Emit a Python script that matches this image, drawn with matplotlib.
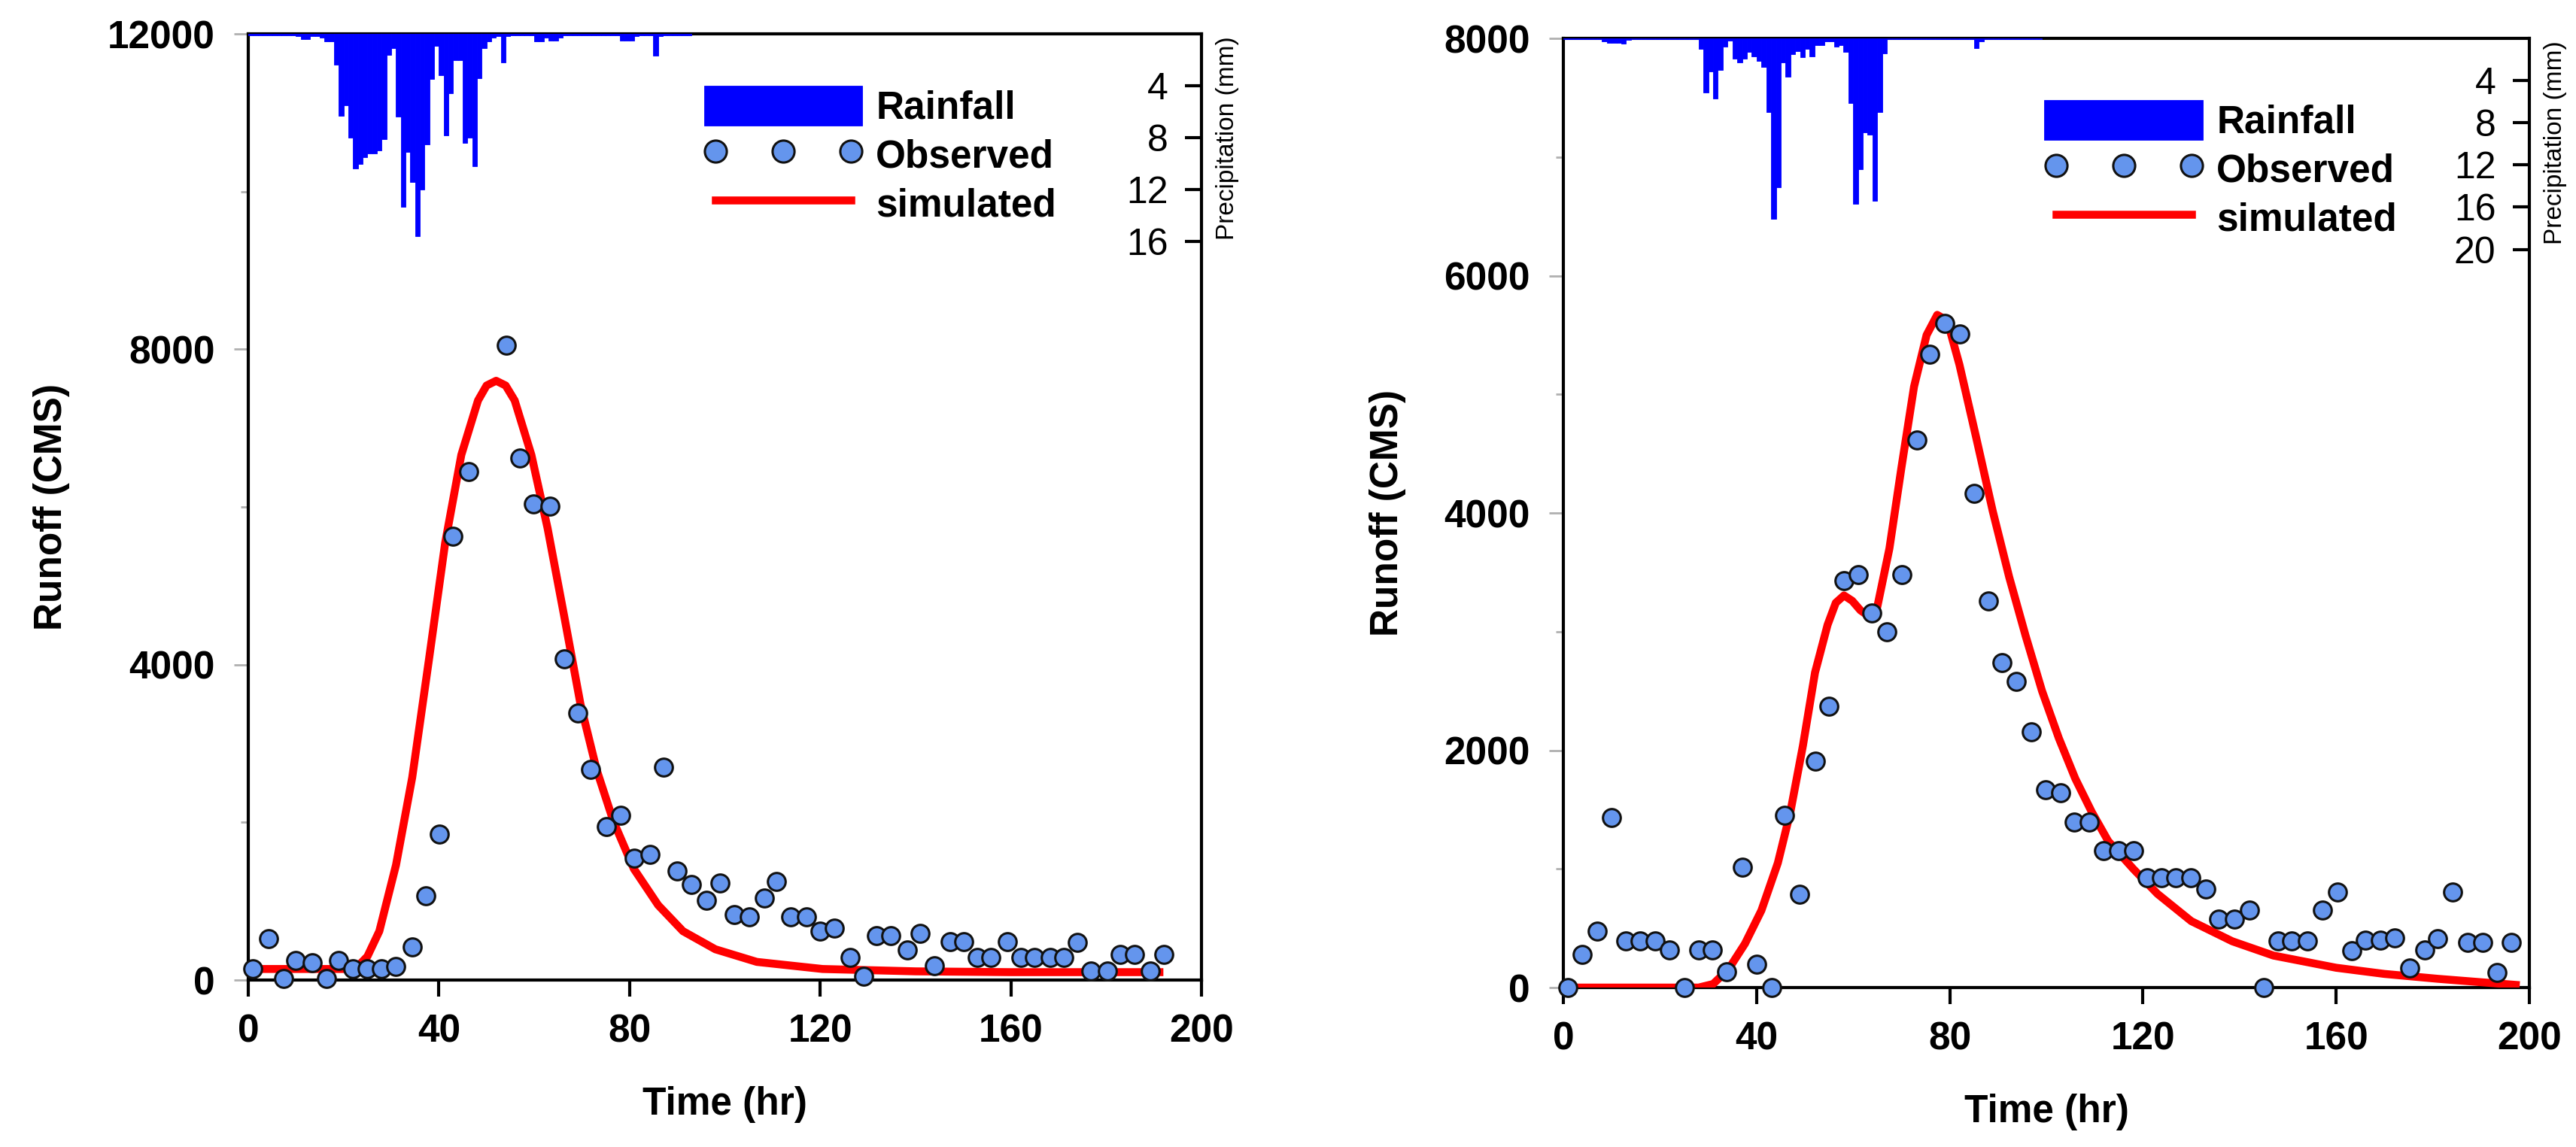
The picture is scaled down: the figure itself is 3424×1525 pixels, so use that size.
import numpy as np
import matplotlib.pyplot as plt
from matplotlib.lines import Line2D

plt.rcParams['font.family'] = ['Liberation Sans', 'DejaVu Sans']

# ---- left event ----
obs_t_left = [0.9, 4.3, 7.4, 10, 13.4, 16.4, 19, 22, 25, 28, 31, 34.4, 37.3, 40.1, 42.9,
              46.3, 54.2, 57, 59.9, 63.3, 66.3, 69.2, 71.8, 75.2, 78.1, 80.9, 84.3, 87.1,
              90, 92.9, 96.2, 99, 101.9, 105.2, 108.3, 110.8, 113.8, 117.2, 120, 122.9,
              126.3, 129.1, 131.8, 134.8, 138.2, 141, 143.9, 147.3, 150.1, 153, 155.8,
              159.2, 162.1, 165, 168.2, 171.1, 174, 176.8, 180.2, 183, 185.9, 189.3, 192.1]
obs_q_left = [140, 520, 20, 250, 220, 20, 250, 140, 140, 140, 175, 420, 1070, 1850, 5630,
              6450, 8050, 6620, 6035, 6010, 4070, 3390, 2675, 1950, 2090, 1550, 1590, 2700,
              1385, 1215, 1010, 1235, 826, 800, 1040, 1245, 800, 800, 620, 660,
              290, 50, 560, 560, 380, 590, 185, 490, 490, 290, 290,
              490, 290, 290, 290, 290, 480, 110, 110, 325, 325, 110, 325]

sim_t_left = [1, 5, 10, 15, 20, 22.6, 25, 27.5, 31, 34.4, 37.9, 41.3, 44.7, 48.2, 50, 52,
              54, 55.9, 59.4, 62.8, 66.3, 69.7, 73.1, 76.6, 80.9, 86, 91.2, 98, 106.7,
              120.5, 140, 160, 180, 192]
sim_q_left = [140, 140, 140, 140, 140, 150, 300, 620, 1460, 2570, 4060, 5540, 6660, 7350,
              7540, 7600, 7540, 7350, 6660, 5730, 4610, 3500, 2665, 2015, 1410, 950, 620,
              390, 230, 140, 110, 100, 100, 100]

rain_left = [0.1, 0.1, 0.1, 0.1, 0.1, 0.1, 0.1, 0.1, 0.1, 0.1,
             0.15, 0.4, 0.4, 0.15, 0.15, 0.3, 0.6, 0.6, 2.4, 6.3,
             5.5, 8.0, 10.4, 10.0, 9.5, 9.2, 9.2, 9.0, 8.1, 1.6,
             1.1, 6.4, 13.3, 9.1, 11.4, 15.6, 12.0, 8.5, 3.5, 0.9,
             3.2, 7.8, 4.6, 2.0, 2.0, 8.4, 8.0, 10.2, 3.4, 1.1,
             0.6, 0.3, 0.15, 2.2, 0.15, 0.1, 0.1, 0.1, 0.1, 0.1,
             0.6, 0.6, 0.3, 0.5, 0.5, 0.3, 0.1, 0.1, 0.1, 0.1,
             0.1, 0.1, 0.1, 0.1, 0.1, 0.1, 0.1, 0.1, 0.5, 0.55,
             0.55, 0.2, 0.1, 0.1, 0.1, 1.7, 0.2, 0.1, 0.1, 0.1,
             0.1, 0.1, 0.1]

# ---- right event ----
obs_t_right = [0.9, 3.9, 7, 9.9, 13, 15.9, 19, 22, 25.1, 28, 30.8, 33.8, 37.1, 40, 43.1,
               45.8, 48.9, 52.1, 55, 58.1, 61, 63.9, 67, 70.1, 73.2, 75.9, 79, 82.1, 85.1,
               88, 90.8, 93.8, 96.9, 99.8, 102.9, 105.8, 108.9, 111.8, 114.9, 118.1, 120.9,
               123.9, 126.8, 129.9, 133, 135.7, 139, 142.1, 145, 148, 150.8, 154, 157.1,
               160.2, 163.2, 166, 169.1, 172.1, 175.2, 178.3, 181, 184.1, 187.2, 190.3,
               193.3, 196.2]
obs_q_right = [0, 280, 475, 1433, 395, 395, 395, 320, 0, 320, 320, 136, 1013, 198, 0,
               1450, 785, 1910, 2370, 3430, 3480, 3160, 3000, 3480, 4614, 5337, 5600, 5510,
               4163, 3261, 2736, 2582, 2156, 1668, 1643, 1396, 1396, 1155, 1155, 1155, 926,
               926, 926, 926, 828, 580, 580, 650, 0, 395, 395, 395, 650,
               803, 309, 401, 401, 420, 167, 315, 414, 803, 383, 383,
               124, 383]

sim_t_right = [0, 28, 31, 34.2, 37.6, 41, 44.4, 47, 49.6, 52.1, 54.7, 56.4, 58.1, 59.8,
               61.5, 63.6, 65, 67.5, 70, 72.6, 75.2, 77.4, 79.5, 82, 85.5, 88.9, 92.3,
               95.7, 99.1, 102.6, 106, 109.4, 112.8, 118, 123, 130, 138.5, 147, 160, 170,
               181, 190, 198]
sim_q_right = [0, 0, 30, 155, 370, 650, 1050, 1480, 2040, 2655, 3057, 3243, 3305, 3260,
               3180, 3120, 3210, 3700, 4385, 5065, 5500, 5670, 5620, 5250, 4630, 4015, 3460,
               2965, 2500, 2100, 1760, 1480, 1235, 1000, 790, 560, 390, 270, 167, 115,
               74, 45, 20]

rain_right = [0.1, 0.1, 0.1, 0.1, 0.1, 0.1, 0.1, 0.1, 0.3, 0.4,
              0.4, 0.4, 0.5, 0.15, 0.1, 0.1, 0.1, 0.1, 0.1, 0.1,
              0.1, 0.1, 0.1, 0.1, 0.1, 0.1, 0.1, 0.1, 1.0, 5.1,
              3.1, 5.7, 3.0, 0.8, 0.2, 1.9, 2.3, 1.9, 1.3, 1.7,
              2.1, 2.7, 7.0, 17.1, 14.1, 2.3, 3.6, 1.5, 1.2, 1.8,
              1.0, 1.7, 0.65, 0.65, 0.25, 0.3, 0.8, 0.6, 1.3, 6.1,
              15.7, 12.4, 8.9, 9.1, 15.4, 7.0, 1.4, 0.1, 0.1, 0.1,
              0.1, 0.1, 0.1, 0.1, 0.1, 0.1, 0.1, 0.1, 0.1, 0.1,
              0.1, 0.1, 0.1, 0.1, 0.1, 0.9, 0.3, 0.1, 0.1, 0.1,
              0.1, 0.1, 0.1, 0.1, 0.1, 0.1, 0.1, 0.1, 0.1]

TICKFS = 18.5
LABELFS = 18.5
SPINE_W = 1.5


def draw_panel(rect, obs_t, obs_q, sim_t, sim_q, rain, ymax, ymajor, yminor,
               pmax, pticks, leg_xy):
    ax = fig.add_axes(rect)

    ax.plot(sim_t, sim_q, color='red', lw=3.8, zorder=3, solid_capstyle='butt')
    ax.plot(obs_t, obs_q, ls='none', marker='o', ms=8.5, mfc='#6495ED', mec='#111111',
            mew=1.1, zorder=4, clip_on=False)

    ax.set_xlim(0, 200)
    ax.set_ylim(0, ymax)
    ax.set_xticks(np.arange(0, 201, 40))
    ax.set_yticks(ymajor)
    ax.set_yticks(yminor, minor=True)
    ax.tick_params(axis='x', direction='out', length=8, width=1.5, color='black',
                   pad=8, labelsize=TICKFS)
    ax.tick_params(axis='y', which='major', direction='out', length=7, width=1,
                   color='#b0b0b0', pad=9, labelsize=TICKFS)
    ax.tick_params(axis='y', which='minor', direction='out', length=3.5, width=1,
                   color='#b0b0b0')
    for lab in ax.get_xticklabels() + ax.get_yticklabels():
        lab.set_fontweight('bold')
    for s in ax.spines.values():
        s.set_linewidth(SPINE_W)
    ax.spines['right'].set_visible(False)
    ax.set_xlabel('Time (hr)', fontsize=LABELFS, fontweight='bold', labelpad=17)
    ax.set_ylabel('Runoff (CMS)', fontsize=LABELFS, fontweight='bold', labelpad=18)

    # rainfall hyetograph on inverted right axis
    ax2 = ax.twinx()
    hours = np.arange(len(rain))
    bars = ax2.bar(hours, rain, width=1.0, align='edge', color='#0000FF',
                   edgecolor='#0000FF', linewidth=0.3, zorder=1)
    ax2.set_ylim(pmax, 0)
    ax2.set_xlim(0, 200)
    ax2.set_yticks(pticks)
    ax2.set_yticklabels([str(p) for p in pticks], ha='right')
    ax2.tick_params(axis='y', direction='in', length=8, width=1.5, color='black',
                    pad=-16, labelsize=18)
    for name in ['top', 'left', 'bottom']:
        ax2.spines[name].set_visible(False)
    ax2.spines['right'].set_linewidth(SPINE_W)
    ax2.text(1.027, 0.89, 'Precipitation (mm)', transform=ax2.transAxes,
             rotation=90, ha='center', va='center', fontsize=12)

    h_obs = Line2D([], [], ls='none', marker='o', ms=10.5, mfc='#6495ED', mec='#111111',
                   mew=1.1)
    h_sim = Line2D([], [], color='red', lw=3.8)
    ax2.legend([bars, h_obs, h_sim], ['Rainfall', 'Observed', 'simulated'],
               loc='upper left', bbox_to_anchor=leg_xy, frameon=False, numpoints=3,
               handlelength=4.1, handleheight=1.2, handletextpad=0.35,
               labelspacing=0.2, borderpad=0, borderaxespad=0,
               prop={'size': 18.5, 'weight': 'bold'})
    return ax


fig = plt.figure(figsize=(17.12, 7.625), dpi=200)

draw_panel([0.09638, 0.14557, 0.37004, 0.82492], obs_t_left, obs_q_left,
           sim_t_left, sim_q_left, rain_left, 12000, [0, 4000, 8000, 12000],
           [2000, 6000, 10000], 72.9, [4, 8, 12, 16], (0.478, 0.945))

draw_panel([0.6069, 0.1390, 0.3750, 0.8275], obs_t_right, obs_q_right,
           sim_t_right, sim_q_right, rain_right, 8000, [0, 2000, 4000, 6000, 8000],
           [1000, 3000, 5000, 7000], 90, [4, 8, 12, 16, 20], (0.498, 0.935))

fig.savefig('out.png', dpi=200)
